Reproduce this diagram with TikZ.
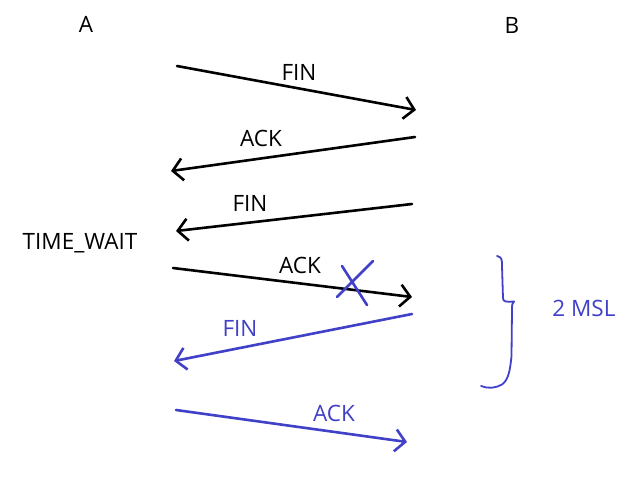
\documentclass[tikz,border=0pt]{standalone}
\usepackage{fontspec}
\setmainfont{Open Sans}
\usetikzlibrary{arrows.meta}
\definecolor{penblue}{RGB}{64,64,200}
\begin{document}
\begin{tikzpicture}[x=1pt,y=-1pt,
  lbl/.style={font=\fontsize{22.5}{26}\selectfont, inner sep=0pt},
  msg/.style={line width=2.6pt, line cap=round, -{Straight Barb[length=10pt,width=22pt,line width=2.6pt]}},
  blk/.style={black},
  blu/.style={penblue}]
\useasboundingbox (0,0) rectangle (635,483);
\fill[white] (0,0) rectangle (635,483);
% labels
\node[lbl] (A) at (86,24) {A};
\node[lbl] (B) at (512,25) {B};
\node[lbl] (tw) at (80,243) {TIME\_WAIT};
\node[lbl,text=penblue] (msl) at (584,308) {2 MSL};
% endpoints
\coordinate (p1s) at (177,66);  \coordinate (p1e) at (416,110);
\coordinate (p2s) at (415,137); \coordinate (p2e) at (171,171);
\coordinate (p3s) at (412,204); \coordinate (p3e) at (176,231);
\coordinate (p4s) at (173,268); \coordinate (p4e) at (412,297);
\coordinate (p5s) at (412,314); \coordinate (p5e) at (174,361);
\coordinate (p6s) at (176,410); \coordinate (p6e) at (407,442);
% arrows
\draw[msg,blk] (p1s) -- (p1e);
\draw[msg,blk] (p2s) -- (p2e);
\draw[msg,blk] (p3s) -- (p3e);
\draw[msg,blk] (p4s) -- (p4e);
\draw[msg,blu] (p5s) -- (p5e);
\draw[msg,blu] (p6s) -- (p6e);
% message labels
\node[lbl] (l1) at (299,72) {FIN};
\node[lbl] (l2) at (261,138) {ACK};
\node[lbl] (l3) at (250,203) {FIN};
\node[lbl] (l4) at (300,265) {ACK};
\node[lbl,text=penblue] (l5) at (240,328) {FIN};
\node[lbl,text=penblue] (l6) at (334,413) {ACK};
% cross
\coordinate (x1a) at (342,266); \coordinate (x1b) at (367,305);
\coordinate (x2a) at (373,261); \coordinate (x2b) at (337,297);
\draw[penblue,line width=2.6pt,line cap=round] (x1a) -- (x1b);
\draw[penblue,line width=2.6pt,line cap=round] (x2a) -- (x2b);
% brace
\draw[penblue,line width=1.8pt,line cap=round,line join=round]
  (497,256) .. controls (502,257) and (502,260) .. (502,266)
  -- (503,298) .. controls (503,302) and (506,302) .. (514,301.5)
  .. controls (512,303) and (512,305) .. (512,310)
  -- (511.5,356) .. controls (510,372) and (508,380) .. (502,384.5)
  .. controls (496,388) and (488,389) .. (481,386);
\end{tikzpicture}
\end{document}
